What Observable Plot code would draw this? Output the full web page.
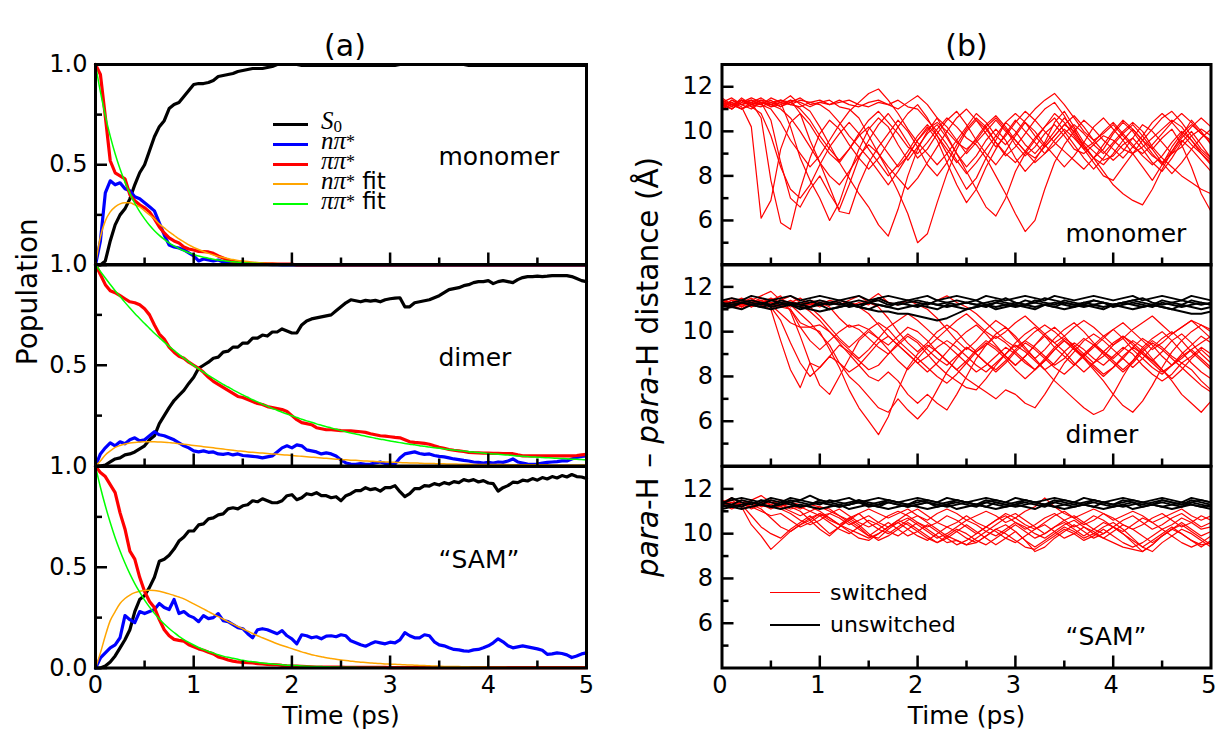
<!DOCTYPE html>
<html><head><meta charset="utf-8">
<script src="https://cdn.jsdelivr.net/npm/d3@7"></script>
<script src="https://cdn.jsdelivr.net/npm/@observablehq/plot@0.6"></script>
<style>
body{margin:0;background:#fff;}
#fig{position:relative;width:1217px;height:731px;overflow:hidden;font-family:"DejaVu Sans";background:#fff;}
.abs{position:absolute;white-space:nowrap;}
.mi{font-family:"Liberation Serif";font-style:italic;}
</style></head>
<body><div id="fig"></div>
<script>
// ---------- DATA ----------
const tL = [0,0.05,0.1,0.15,0.2,0.25,0.3,0.35,0.4,0.45,0.5,0.55,0.6,0.65,0.7,0.75,0.8,0.85,0.9,0.95,1,1.05,1.1,1.15,1.2,1.25,1.3,1.35,1.4,1.45,1.5,1.55,1.6,1.65,1.7,1.75,1.8,1.85,1.9,1.95,2,2.05,2.1,2.15,2.2,2.25,2.3,2.35,2.4,2.45,2.5,2.55,2.6,2.65,2.7,2.75,2.8,2.85,2.9,2.95,3,3.05,3.1,3.15,3.2,3.25,3.3,3.35,3.4,3.45,3.5,3.55,3.6,3.65,3.7,3.75,3.8,3.85,3.9,3.95,4,4.05,4.1,4.15,4.2,4.25,4.3,4.35,4.4,4.45,4.5,4.55,4.6,4.65,4.7,4.75,4.8,4.85,4.9,4.95,5];
const tR = [0,0.1,0.2,0.3,0.4,0.5,0.6,0.7,0.8,0.9,1,1.1,1.2,1.3,1.4,1.5,1.6,1.7,1.8,1.9,2,2.1,2.2,2.3,2.4,2.5,2.6,2.7,2.8,2.9,3,3.1,3.2,3.3,3.4,3.5,3.6,3.7,3.8,3.9,4,4.1,4.2,4.3,4.4,4.5,4.6,4.7,4.8,4.9,5];

// (a) monomer populations
const monoS0 = [0,0,0.02,0.12,0.2,0.25,0.28,0.33,0.4,0.46,
0.5,0.57,0.64,0.69,0.72,0.78,0.8,0.81,0.84,0.87,
0.9,0.905,0.905,0.91,0.92,0.94,0.945,0.95,0.955,0.965,
0.97,0.975,0.98,0.98,0.98,0.985,0.99,1,1,1,
1,1,0.996,0.996,0.996,0.996,0.996,0.996,0.996,0.996,
0.996,0.996,0.996,0.996,0.996,0.996,0.996,0.996,0.996,0.996,
0.996,0.996,1,1,1,1,1,1,1,1,
1,1,1,1,1,1,0.996,0.996,0.996,0.996,
0.996,0.996,0.996,0.996,0.996,0.996,0.996,0.996,0.996,0.996,
0.996,0.996,0.996,0.996,0.996,0.996,0.996,0.996,0.996,0.996,0.996];
const monoNpi = [0,0.12,0.36,0.42,0.4,0.41,0.38,0.37,0.34,0.33,
0.31,0.29,0.27,0.21,0.15,0.1,0.09,0.085,0.075,0.06,
0.045,0.02,0.03,0.025,0.02,0.025,0.015,0.012,0.01,0.008,
0.006,0.005,0.005,0.004,0.003,0.003,0.002,0.002,0,0,
0,0,0,0,0,0,0,0,0,0,0,0,0,0,0,0,0,0,0,0,0,0,0,0,0,0,0,0,0,0,
0,0,0,0,0,0,0,0,0,0,0,0,0,0,0,0,0,0,0,0,0,0,0,0,0,0,0,0,0,0,0];
const monoPipi = [1,0.95,0.74,0.52,0.46,0.445,0.43,0.35,0.32,0.3,
0.285,0.265,0.23,0.19,0.16,0.135,0.12,0.11,0.09,0.08,
0.075,0.068,0.067,0.065,0.058,0.045,0.035,0.025,0.018,0.012,
0.01,0.008,0.008,0.007,0.007,0.006,0.006,0.005,0.005,0.005,
0.004,0,0,0,0,0,0,0,0,0,0,0,0,0,0,0,0,0,0,0,0,0,0,0,0,0,0,0,0,0,
0,0,0,0,0,0,0,0,0,0,0,0,0,0,0,0,0,0,0,0,0,0,0,0,0,0,0,0,0,0,0];
const monoNpiFit = [0,0.14,0.22,0.265,0.29,0.305,0.31,0.31,0.3,0.29,
0.27,0.25,0.23,0.205,0.185,0.165,0.148,0.13,0.115,0.1,
0.088,0.077,0.067,0.058,0.05,0.043,0.037,0.032,0.027,0.023,
0.02,0.017,0.014,0.012,0.01,0.009,0.008,0.007,0.006,0.005,
0.004,0.003,0.003,0.002,0.002,0.002,0.001,0.001,0.001,0.001,
0,0,0,0,0,0,0,0,0,0,0,0,0,0,0,0,0,0,0,0,
0,0,0,0,0,0,0,0,0,0,0,0,0,0,0,0,0,0,0,0,0,0,0,0,0,0,0,0,0,0,0];
const monoPipiFit = [1,0.863,0.745,0.643,0.555,0.479,0.414,0.357,0.308,0.266,
0.23,0.198,0.171,0.148,0.128,0.11,0.095,0.082,0.071,0.061,
0.053,0.045,0.039,0.034,0.029,0.025,0.022,0.019,0.016,0.014,
0.012,0.01,0.009,0.008,0.007,0.006,0.005,0.004,0.004,0.003,
0.003,0.002,0.002,0.002,0.002,0.001,0.001,0.001,0.001,0.001,
0,0,0,0,0,0,0,0,0,0,0,0,0,0,0,0,0,0,0,0,
0,0,0,0,0,0,0,0,0,0,0,0,0,0,0,0,0,0,0,0,0,0,0,0,0,0,0,0,0,0,0];

// (a) dimer populations
const dimS0 = [0,0,0.005,0.02,0.035,0.04,0.055,0.06,0.07,0.085,
0.1,0.13,0.15,0.21,0.25,0.29,0.325,0.35,0.375,0.41,
0.44,0.485,0.5,0.515,0.535,0.54,0.565,0.57,0.59,0.59,
0.61,0.61,0.635,0.635,0.65,0.645,0.665,0.665,0.68,0.67,
0.66,0.66,0.7,0.72,0.73,0.735,0.74,0.745,0.75,0.77,
0.79,0.81,0.825,0.82,0.815,0.822,0.818,0.822,0.815,0.825,
0.83,0.833,0.835,0.79,0.79,0.81,0.815,0.82,0.825,0.835,
0.845,0.86,0.875,0.88,0.885,0.895,0.9,0.91,0.915,0.915,
0.92,0.905,0.915,0.92,0.915,0.91,0.925,0.935,0.94,0.94,
0.942,0.94,0.942,0.945,0.945,0.945,0.945,0.94,0.93,0.92,0.915];
const dimNpi = [0,0.06,0.09,0.115,0.1,0.12,0.11,0.13,0.14,0.125,
0.13,0.15,0.17,0.155,0.15,0.14,0.13,0.115,0.1,0.09,
0.075,0.07,0.075,0.068,0.07,0.06,0.058,0.062,0.055,0.06,
0.052,0.05,0.048,0.045,0.04,0.045,0.05,0.07,0.09,0.1,
0.09,0.105,0.1,0.08,0.075,0.07,0.06,0.065,0.06,0.05,
0.03,0.015,0.01,0.008,0.012,0.008,0.01,0.015,0.02,0.012,
0.008,0.01,0.04,0.06,0.065,0.07,0.062,0.058,0.06,0.052,
0.048,0.045,0.04,0.035,0.032,0.028,0.025,0.02,0.018,0.015,
0.018,0.015,0.02,0.018,0.025,0.035,0.02,0.015,0.01,0.008,
0.01,0.015,0.018,0.02,0.022,0.025,0.025,0.035,0.042,0.048,0.05];
const dimPipi = [1,0.95,0.9,0.87,0.86,0.845,0.83,0.815,0.81,0.8,
0.78,0.75,0.7,0.655,0.63,0.59,0.565,0.545,0.535,0.515,
0.5,0.485,0.465,0.44,0.42,0.405,0.39,0.375,0.36,0.345,
0.34,0.33,0.32,0.31,0.305,0.295,0.29,0.285,0.28,0.27,
0.25,0.23,0.215,0.21,0.205,0.19,0.185,0.18,0.18,0.178,
0.176,0.175,0.174,0.172,0.17,0.167,0.16,0.155,0.15,0.148,
0.145,0.142,0.14,0.13,0.12,0.117,0.115,0.112,0.108,0.1,
0.093,0.088,0.082,0.078,0.075,0.072,0.068,0.066,0.065,0.064,
0.064,0.063,0.063,0.062,0.062,0.061,0.055,0.05,0.05,0.05,
0.05,0.05,0.05,0.05,0.05,0.05,0.05,0.05,0.052,0.055,0.058];
const dimNpiFit = [0,0.025,0.055,0.075,0.092,0.102,0.109,0.114,0.117,0.119,
0.12,0.12,0.12,0.119,0.118,0.116,0.114,0.111,0.108,0.105,
0.102,0.099,0.096,0.093,0.09,0.087,0.084,0.081,0.078,0.075,
0.073,0.07,0.068,0.066,0.064,0.062,0.06,0.058,0.056,0.054,
0.052,0.05,0.048,0.046,0.044,0.042,0.04,0.038,0.036,0.034,
0.032,0.031,0.029,0.028,0.026,0.025,0.024,0.022,0.021,0.02,
0.019,0.018,0.017,0.016,0.015,0.015,0.014,0.013,0.013,0.012,
0.011,0.011,0.01,0.01,0.009,0.009,0.009,0.008,0.008,0.008,
0.007,0.007,0.007,0.007,0.007,0.006,0.006,0.006,0.006,0.006,
0.006,0.006,0.006,0.005,0.005,0.005,0.005,0.005,0.005,0.005,0.005];
const dimPipiFit = [1,0.966,0.933,0.901,0.87,0.841,0.812,0.784,0.757,0.732,
0.707,0.683,0.659,0.637,0.615,0.594,0.574,0.554,0.535,0.517,
0.499,0.482,0.466,0.45,0.435,0.42,0.405,0.392,0.378,0.365,
0.353,0.341,0.329,0.318,0.307,0.297,0.286,0.277,0.267,0.258,
0.249,0.241,0.232,0.224,0.217,0.209,0.202,0.195,0.189,0.182,
0.176,0.17,0.164,0.159,0.153,0.148,0.143,0.138,0.133,0.129,
0.124,0.12,0.116,0.112,0.108,0.105,0.101,0.098,0.094,0.091,
0.088,0.085,0.082,0.079,0.077,0.074,0.071,0.069,0.067,0.064,
0.062,0.06,0.058,0.056,0.054,0.052,0.05,0.049,0.047,0.045,
0.044,0.042,0.041,0.04,0.038,0.037,0.036,0.034,0.033,0.032,0.031];

// (a) "SAM" populations
const samS0 = [0,0,0.01,0.03,0.06,0.1,0.14,0.19,0.28,0.34,
0.36,0.4,0.45,0.53,0.54,0.56,0.59,0.63,0.65,0.68,
0.68,0.71,0.715,0.74,0.745,0.76,0.765,0.79,0.795,0.79,
0.805,0.81,0.83,0.825,0.84,0.83,0.82,0.82,0.83,0.855,
0.86,0.835,0.845,0.865,0.86,0.87,0.855,0.855,0.845,0.85,
0.83,0.855,0.865,0.88,0.88,0.895,0.885,0.89,0.878,0.895,
0.895,0.905,0.875,0.85,0.865,0.89,0.89,0.905,0.903,0.915,
0.908,0.92,0.913,0.925,0.92,0.935,0.928,0.935,0.923,0.93,
0.918,0.915,0.878,0.895,0.905,0.922,0.92,0.932,0.928,0.94,
0.932,0.945,0.938,0.95,0.943,0.955,0.948,0.96,0.95,0.948,0.94];
const samNpi = [0,0.05,0.075,0.1,0.115,0.15,0.26,0.24,0.225,0.28,
0.27,0.28,0.29,0.32,0.3,0.29,0.34,0.27,0.28,0.26,
0.25,0.23,0.26,0.245,0.25,0.27,0.235,0.23,0.215,0.2,
0.195,0.17,0.15,0.19,0.195,0.19,0.18,0.17,0.185,0.16,
0.145,0.12,0.165,0.16,0.15,0.155,0.145,0.158,0.16,0.155,
0.165,0.16,0.135,0.125,0.115,0.108,0.12,0.13,0.125,0.12,
0.128,0.125,0.14,0.175,0.16,0.15,0.15,0.165,0.16,0.13,
0.115,0.11,0.1,0.092,0.09,0.085,0.083,0.09,0.092,0.1,
0.11,0.125,0.145,0.13,0.11,0.1,0.105,0.11,0.105,0.1,
0.095,0.088,0.068,0.07,0.075,0.072,0.065,0.052,0.06,0.07,0.075];
const samPipi = [1,0.97,0.95,0.91,0.87,0.77,0.69,0.58,0.54,0.45,
0.38,0.33,0.3,0.24,0.19,0.16,0.142,0.137,0.133,0.115,
0.105,0.095,0.088,0.078,0.07,0.055,0.048,0.04,0.034,0.03,
0.028,0.026,0.025,0.022,0.02,0.018,0.017,0.016,0.013,0.011,
0.01,0.009,0.008,0.007,0.006,0.005,0.005,0.004,0.004,0.004,
0.004,0.003,0.003,0.003,0.003,0.003,0.003,0.003,0.003,0.003,
0.002,0.002,0.002,0.002,0.002,0.002,0.002,0.002,0.002,0.002,
0.002,0.002,0.002,0.002,0.002,0.002,0.002,0.002,0.002,0.002,
0.002,0.002,0.002,0.002,0.002,0.002,0.002,0.002,0.002,0.002,
0.002,0.002,0.002,0.002,0.002,0.002,0.002,0.002,0.002,0.002,0.002];
const samNpiFit = [0,0.075,0.16,0.235,0.28,0.32,0.345,0.362,0.374,0.381,
0.385,0.386,0.385,0.381,0.375,0.368,0.36,0.352,0.343,0.331,
0.318,0.306,0.293,0.28,0.267,0.255,0.243,0.23,0.218,0.206,
0.195,0.183,0.171,0.16,0.15,0.14,0.13,0.12,0.112,0.104,
0.096,0.088,0.08,0.073,0.066,0.061,0.056,0.051,0.047,0.043,
0.04,0.037,0.034,0.031,0.029,0.027,0.025,0.023,0.022,0.02,
0.019,0.018,0.017,0.016,0.015,0.014,0.013,0.012,0.011,0.01,
0.009,0.008,0.008,0.007,0.007,0.006,0.006,0.005,0.005,0.005,
0.004,0.004,0.004,0.004,0.003,0.003,0.003,0.003,0.003,0.003,
0.002,0.002,0.002,0.002,0.002,0.002,0.002,0.002,0.002,0.002,0.002];
const samPipiFit = [1,0.897,0.805,0.722,0.647,0.581,0.521,0.467,0.419,0.376,
0.337,0.302,0.271,0.243,0.218,0.196,0.176,0.157,0.141,0.127,
0.114,0.102,0.091,0.082,0.074,0.066,0.059,0.053,0.048,0.043,
0.038,0.034,0.031,0.028,0.025,0.022,0.02,0.018,0.016,0.014,
0.013,0.012,0.01,0.009,0.008,0.0075,0.007,0.006,0.0055,0.005,
0.0045,0.004,0.0036,0.0032,0.003,0.0027,0.0024,0.0022,0.002,0.0018,
0.001,0.001,0.001,0.001,0.001,0.001,0.001,0.001,0.001,0.001,
0.001,0.001,0.001,0.001,0.001,0.001,0.001,0.001,0.001,0.001,
0.001,0.001,0.001,0.001,0.001,0.001,0.001,0.001,0.001,0.001,
0.001,0.001,0.001,0.001,0.001,0.001,0.001,0.001,0.001,0.001,0.001];

// (b) para-H – para-H distances (Å), one list per trajectory, sampled on tR
const monomerSwitched = [
[11.2,11.3,11.1,10.2,6.1,6.9,9.2,10.4,10.8,10.3, 9.6,9.0,8.6,9.2,9.8,10.2,9.6,9.0,8.4,8.9, 9.6,10.1,10.4,10.0,9.5,9.2,9.6,10.2,10.6,10.1, 9.4,8.9,9.3,9.9,10.3,9.8,9.2,9.0,9.4,9.8, 9.6,9.2,9.0,9.3,9.7,10.1,10.5,10.2,9.6,9.0, 8.6],
[11.0,11.4,11.2,11.3,10.6,7.8,5.9,5.6,7.4,8.8, 9.9,10.5,10.1,9.4,8.8,8.3,8.8,9.5,10.2,10.8, 11.2,10.6,9.8,9.0,8.2,7.4,7.9,8.8,9.6,10.4, 10.0,9.4,9.0,9.5,10.4,10.9,10.2,9.5,9.1,8.7, 8.9,9.4,9.7,9.2,8.6,8.2,8.8,9.5,10.0,9.4, 8.8],
[11.4,11.1,11.5,11.2,11.3,10.5,8.6,7.0,6.6,7.4, 8.0,7.2,6.5,7.6,8.8,9.6,10.3,10.8,10.2,9.5, 8.8,9.2,9.9,10.5,10.9,10.3,9.6,9.0,8.5,9.1, 9.8,10.4,10.0,9.4,8.9,8.4,8.9,9.5,10.2,10.6, 10.1,9.6,9.0,8.4,7.8,8.5,9.3,9.9,10.3,9.9, 9.5],
[11.3,11.0,11.4,11.3,11.5,11.2,11.3,10.2,8.8,7.8, 7.0,6.0,6.8,8.1,9.2,10.1,10.6,10.2,9.4,8.7, 9.3,9.9,10.3,9.7,9.0,8.4,8.9,9.6,10.1,9.6, 8.8,8.2,8.7,9.4,10.0,10.6,10.1,9.3,8.8,9.2, 9.9,10.4,10.0,9.4,8.9,8.6,9.1,9.8,10.5,10.0, 9.4],
[11.1,11.3,11.0,11.2,11.4,11.3,11.1,11.4,10.8,9.6, 8.6,7.5,6.4,6.3,7.6,8.6,9.3,9.9,10.5,10.0, 9.3,8.5,8.0,8.6,9.4,10.1,10.6,10.2,9.5,8.9, 9.3,9.9,10.5,11.0,11.3,10.7,9.9,9.3,8.8,8.5, 9.0,9.6,10.1,9.6,9.0,8.5,9.0,9.6,9.2,8.7, 8.2],
[11.3,11.5,11.2,11.4,11.2,11.5,11.3,11.6,11.2,10.9, 10.2,9.4,8.6,7.9,7.2,6.6,5.8,5.3,6.5,8.0, 9.2,10.0,10.6,10.2,9.6,9.0,9.5,10.0,10.5,10.0, 9.6,9.1,8.8,9.3,9.8,10.3,10.7,10.2,9.6,9.1, 8.7,9.1,9.7,10.3,10.0,9.5,9.0,9.3,9.8,10.1, 9.8],
[11.0,11.2,11.4,11.1,11.3,11.2,11.4,11.3,11.5,11.2, 11.3,11.4,11.1,11.0,10.6,9.8,9.0,8.2,7.3,6.3, 5.0,5.4,6.8,8.1,9.2,10.0,10.5,10.1,9.5,9.0, 8.6,9.1,9.7,10.2,10.6,10.0,9.4,8.8,8.3,8.8, 9.4,9.9,10.3,9.8,9.2,8.6,8.1,8.6,9.2,9.7, 10.1],
[11.2,11.0,11.3,11.5,11.3,11.1,11.2,11.4,11.3,11.1, 11.3,11.2,11.4,11.2,11.1,11.3,11.4,11.2,11.0,11.3, 11.6,11.2,10.6,9.8,9.0,8.2,7.4,6.6,6.2,7.0, 8.2,9.0,9.6,10.2,10.8,10.4,9.8,9.2,8.6,8.0, 7.8,8.4,9.0,9.6,10.1,10.6,10.9,10.4,9.8,9.2, 8.8],
[11.4,11.2,11.0,11.3,11.2,11.4,11.1,11.3,11.0,10.5, 9.8,9.2,8.7,9.2,9.9,10.5,10.9,10.4,9.9,9.3, 9.0,9.5,10.1,10.6,10.2,9.7,9.4,8.8,8.0,7.2, 6.3,5.5,6.0,7.4,8.6,9.4,10.0,10.5,10.1,9.6, 9.2,8.8,9.3,9.8,10.4,10.8,10.4,9.9,9.4,9.0, 8.5],
[11.3,11.1,11.4,11.2,11.1,11.3,11.4,11.2,11.1,11.3, 11.4,11.2,11.3,11.4,11.2,11.1,11.3,11.2,11.4,11.1, 11.0,10.5,10.0,9.4,8.7,8.1,8.6,9.2,9.8,10.4, 10.8,10.4,9.8,9.3,9.8,10.3,10.0,9.4,8.8,8.2, 7.6,7.2,6.9,6.7,7.4,8.3,9.1,9.7,10.2,10.6, 10.2],
[11.1,11.4,11.2,11.0,11.3,11.2,11.0,10.6,10.0,9.3, 8.6,8.0,7.6,8.2,8.9,9.4,9.0,8.4,7.9,7.4, 7.9,8.6,9.3,10.0,10.6,11.0,10.5,9.9,9.3,9.8, 10.4,10.9,10.5,10.0,9.5,9.1,8.7,8.3,8.8,9.4, 10.0,10.5,10.1,9.6,9.2,9.7,10.1,9.4,8.4,7.2, 6.4],
[11.2,11.0,11.3,11.4,11.2,11.0,10.4,9.6,9.0,8.4, 8.9,9.6,10.3,10.9,11.3,11.7,11.9,11.4,10.8,10.1, 9.5,9.0,8.5,9.0,9.6,10.2,10.8,10.4,9.8,9.4, 9.9,10.5,11.0,11.4,11.7,11.2,10.6,10.0,9.6,9.9, 10.3,9.8,9.3,9.0,9.4,9.9,10.4,10.8,10.4,9.9, 9.6],
[11.5,11.2,11.4,11.1,10.8,9.8,8.4,7.4,7.0,7.6, 8.5,9.3,9.9,10.4,9.9,9.2,8.6,8.0,8.5,9.1, 9.8,10.3,9.8,9.2,8.6,9.1,9.7,10.3,10.7,10.2, 9.6,9.1,8.6,9.0,9.6,10.1,9.7,9.2,9.5,10.0, 10.4,9.9,9.4,8.9,8.5,8.9,9.5,10.0,9.6,9.1, 8.7],
[11.3,11.2,11.0,11.2,11.4,11.1,11.3,11.2,11.4,11.3, 11.2,10.9,10.4,9.8,9.3,8.8,8.2,7.6,8.2,8.9, 9.6,10.2,9.6,8.6,7.6,6.8,7.4,8.4,9.2,9.9, 10.5,10.0,9.5,9.0,9.4,9.9,10.3,9.9,9.4,9.0, 9.5,10.0,10.4,10.0,9.3,8.8,8.4,8.0,7.7,7.4, 7.2]
];
const dimerSwitched = [
[11.2,11.4,11.3,11.5,11.2,11.0,9.6,8.3,7.5,8.6, 8.4,8.9,9.4,9.1,8.7,8.3,8.5,9.0,9.5,9.9, 9.6,9.2,8.8,8.5,8.9,9.3,9.0,8.6,8.2,8.6, 9.1,9.5,9.2,8.8,8.4,8.1,8.5,9.0,9.4,9.1, 8.7,8.3,8.7,9.2,9.6,9.3,8.9,8.6,8.9,9.3, 9.0],
[11.1,11.3,11.4,11.2,11.3,11.4,11.6,10.9,9.8,8.6, 7.6,7.2,8.0,8.8,9.6,10.0,9.7,9.2,8.7,8.3, 8.8,9.3,9.7,9.4,9.0,8.6,8.2,8.5,8.9,9.3, 9.0,8.6,8.3,8.7,9.2,9.6,9.2,8.8,8.5,8.1, 8.4,8.8,9.3,9.0,8.6,8.2,8.5,8.9,9.2,8.8, 8.4],
[11.3,11.2,11.0,11.3,11.4,11.2,11.1,11.0,10.4,10.2, 10.0,9.2,8.4,7.4,6.6,6.0,5.4,6.2,7.4,8.4, 9.0,9.4,9.1,8.7,8.3,8.7,9.2,9.6,9.3,8.9, 8.5,8.9,9.4,9.8,9.5,9.1,8.6,8.2,8.6,9.1, 9.5,9.8,9.4,9.0,8.7,9.1,9.6,9.9,9.5,9.0, 8.6],
[11.4,11.2,11.3,11.1,11.3,11.5,11.3,11.2,10.8,10.4, 9.9,9.4,8.6,8.0,7.6,7.1,6.6,6.4,7.0,6.5, 6.1,6.6,7.4,8.2,8.8,9.3,9.0,8.6,8.3,8.7, 9.2,9.6,9.3,8.9,8.5,8.8,9.3,9.7,9.4,9.0, 8.6,8.2,8.6,9.1,9.5,9.2,8.8,8.4,8.0,7.6, 7.3],
[11.2,11.3,11.5,11.3,11.2,11.3,11.1,11.3,11.2,10.9, 10.5,10.0,9.5,9.0,8.5,8.0,7.8,8.2,7.8,7.2, 6.8,7.2,6.8,6.5,7.2,8.0,8.8,9.4,9.8,9.5, 9.1,8.7,8.3,8.7,9.2,9.6,9.3,8.9,8.4,8.0, 8.4,8.9,9.3,9.7,9.4,8.9,8.5,8.8,9.2,9.5, 9.8],
[11.3,11.1,11.2,11.4,11.3,11.1,11.2,11.3,11.5,11.2, 11.3,11.1,10.6,10.2,10.3,10.1,9.7,9.4,9.8,10.2, 10.0,9.6,9.1,8.7,8.3,7.9,7.6,7.3,7.0,7.4, 7.2,6.8,6.6,7.2,7.9,8.6,9.1,9.6,9.9,9.6, 9.2,8.8,8.4,8.8,9.3,9.7,10.0,9.6,9.1,8.7, 8.3],
[11.2,11.4,11.1,11.3,11.2,11.4,11.3,11.1,11.3,11.2, 11.4,11.3,11.2,11.4,11.6,11.3,11.1,10.6,10.0,9.5, 9.1,9.5,10.0,10.3,10.0,9.5,9.1,9.4,9.9,10.2, 9.8,9.3,8.8,8.3,7.8,7.4,7.0,6.6,6.3,6.5, 7.2,8.0,8.7,9.3,9.7,10.0,9.6,9.1,8.6,8.2, 7.9],
[11.3,11.2,11.4,11.2,11.1,11.3,11.2,11.4,11.2,11.3, 11.1,11.3,11.2,11.3,11.1,10.8,10.3,9.8,9.4,9.0, 8.6,8.2,8.6,9.1,9.6,10.0,10.3,9.9,9.4,8.9, 8.5,8.9,9.4,9.9,10.2,9.8,9.3,8.8,8.3,7.8, 7.2,6.7,6.4,6.9,7.6,8.4,9.1,9.6,10.0,10.3, 10.1],
[11.2,11.3,11.1,11.4,11.3,11.2,11.4,11.3,11.1,11.3, 11.2,11.4,11.3,11.1,11.3,11.2,11.5,11.3,11.2,11.4, 11.2,11.0,10.6,10.1,9.6,9.2,9.6,10.1,10.5,10.2, 9.7,9.2,8.8,9.2,9.7,10.1,10.4,10.0,9.5,9.1, 8.8,9.2,9.6,9.3,8.8,8.3,7.8,7.2,6.8,6.4, 6.9],
[11.4,11.3,11.2,11.3,11.5,11.3,11.2,11.0,10.2,9.6, 9.2,9.6,10.0,10.3,10.1,9.7,9.3,9.0,9.4,9.8, 9.5,9.0,8.5,8.1,7.8,7.5,7.4,7.9,8.5,9.0, 9.5,9.9,10.2,9.8,9.3,8.9,8.5,8.9,9.4,9.8, 10.1,9.7,9.2,8.8,8.4,8.1,8.5,9.0,9.4,9.8, 9.5],
[11.3,11.5,11.2,11.3,11.4,11.2,10.8,10.4,10.2,10.2, 10.3,10.0,9.6,9.2,8.8,9.2,9.7,10.2,10.5,10.8, 10.5,10.1,9.7,10.1,10.5,10.8,10.4,10.0,9.7,10.0, 10.4,10.7,10.3,9.9,9.5,9.8,10.2,10.5,10.2,9.8, 9.4,9.7,10.1,10.4,10.7,10.3,9.9,10.2,10.5,10.3, 10.0],
[11.1,11.3,11.4,11.2,11.4,11.1,10.5,9.5,8.6,8.0, 8.4,8.9,8.6,8.2,8.5,9.0,9.5,9.8,9.4,9.0, 8.6,8.9,9.3,9.6,9.3,8.9,8.5,8.2,8.6,9.0, 9.4,9.1,8.7,8.3,8.6,9.1,9.5,9.2,8.8,8.5, 8.9,9.3,9.0,8.5,8.1,7.8,8.1,8.6,8.3,7.8, 7.4],
[11.2,11.3,11.1,11.4,11.6,11.8,11.4,11.3,11.2,11.4, 11.3,11.2,11.4,11.3,11.2,11.4,11.7,11.3,11.2,11.4, 11.3,11.2,11.4,11.6,11.3,11.1,10.8,10.4,10.0,9.6, 9.3,9.6,10.0,10.3,10.0,9.6,9.2,8.9,9.3,9.7, 10.1,10.4,10.0,9.6,9.2,9.5,9.9,10.2,10.5,10.1, 9.7],
[11.3,11.2,11.3,11.1,11.3,11.2,11.4,11.6,11.3,11.1, 10.7,10.2,9.7,9.3,9.7,10.1,10.4,10.1,9.6,9.2, 8.8,8.4,8.0,7.7,8.1,8.6,9.1,9.5,9.2,8.8, 8.3,7.9,8.3,8.8,9.3,9.7,9.4,9.0,8.6,8.9, 9.4,9.8,9.5,9.1,8.7,8.3,7.9,8.3,8.8,9.2, 8.8]
];
const dimerUnswitched = [
[11.2,11.3,11.4,11.3,11.2,11.4,11.3,11.2,11.3,11.4, 11.2,11.3,11.4,11.3,11.1,11.3,11.4,11.2,11.3,11.4, 11.3,11.2,11.4,11.3,11.2,11.3,11.4,11.2,11.3,11.5, 11.3,11.2,11.4,11.3,11.2,11.4,11.3,11.2,11.4,11.3, 11.2,11.3,11.4,11.3,11.2,11.4,11.3,11.2,11.4,11.3, 11.2],
[11.0,11.1,11.0,11.2,11.1,11.0,11.1,11.2,11.0,11.1, 11.2,11.0,11.1,11.2,11.1,11.0,11.2,11.1,11.0,11.1, 11.2,11.1,11.0,11.2,11.1,11.0,11.1,11.2,11.0,11.1, 11.2,11.1,11.0,11.2,11.1,11.0,11.1,11.2,11.1,11.0, 11.2,11.1,11.0,11.1,11.2,11.1,11.0,11.2,11.1,11.0, 11.1],
[11.4,11.5,11.4,11.6,11.5,11.4,11.5,11.6,11.4,11.5, 11.6,11.5,11.4,11.5,11.6,11.4,11.5,11.6,11.5,11.4, 11.5,11.6,11.4,11.5,11.6,11.5,11.4,11.6,11.5,11.4, 11.5,11.6,11.5,11.4,11.6,11.5,11.4,11.5,11.6,11.5, 11.4,11.5,11.6,11.4,11.5,11.6,11.5,11.4,11.6,11.5, 11.4],
[11.1,11.2,11.3,11.2,11.1,11.2,11.3,11.2,11.1,11.0, 10.9,11.0,11.1,11.2,11.1,11.0,10.9,10.9,10.8,10.8, 10.7,10.6,10.5,10.6,10.8,11.0,11.1,11.2,11.1,11.2, 11.3,11.2,11.1,11.2,11.3,11.2,11.1,11.3,11.2,11.1, 11.2,11.3,11.2,11.1,11.2,11.1,11.0,10.9,10.8,10.8, 10.9],
[11.3,11.2,11.3,11.4,11.3,11.2,11.4,11.3,11.2,11.3, 11.4,11.3,11.2,11.3,11.4,11.3,11.5,11.3,11.2,11.3, 11.4,11.3,11.2,11.3,11.4,11.3,11.2,11.3,11.4,11.3, 11.2,11.4,11.3,11.5,11.4,11.3,11.2,11.3,11.4,11.3, 11.2,11.3,11.4,11.5,11.3,11.2,11.3,11.4,11.3,11.2, 11.3],
[11.2,11.1,11.3,11.2,11.3,11.1,11.2,11.3,11.2,11.1, 11.3,11.2,11.3,11.1,11.2,11.3,11.2,11.1,11.3,11.2, 11.1,11.3,11.2,11.1,11.2,11.3,11.2,11.1,11.3,11.2, 11.1,11.2,11.3,11.2,11.1,11.3,11.2,11.1,11.2,11.3, 11.1,11.2,11.3,11.2,11.1,11.3,11.2,11.1,11.2,11.3, 11.2]
];
const samSwitched = [
[11.3,11.5,11.2,10.4,9.9,9.3,9.7,10.1,10.4,10.6, 10.9,10.7,10.4,10.2,10.0,9.8,10.0,10.3,10.5,10.2, 9.9,9.7,10.0,10.3,10.1,9.8,9.6,9.9,10.2,10.4, 10.1,9.7,9.4,9.7,10.0,10.3,10.1,9.8,10.0,10.3, 10.5,10.2,9.8,9.4,9.7,10.0,10.3,10.0,9.7,9.5, 9.6],
[11.4,11.2,11.3,10.8,10.3,10.0,9.8,10.2,10.5,10.8, 10.4,10.0,10.3,10.6,10.3,9.9,9.8,10.2,10.5,10.7, 10.4,10.1,9.8,10.0,10.3,10.6,10.4,10.1,9.9,10.2, 10.5,10.3,10.0,9.8,10.1,10.4,10.6,10.3,10.0,9.8, 10.1,10.4,10.2,9.9,9.6,9.9,10.2,10.5,10.2,9.9, 10.1],
[11.2,11.3,11.5,11.3,11.1,10.7,10.3,10.1,10.4,10.7, 10.9,10.6,10.4,10.7,10.9,10.5,10.2,10.0,10.3,10.6, 10.8,10.5,10.2,9.9,9.7,9.5,9.8,10.1,10.4,10.7, 10.9,10.6,10.3,10.0,10.3,10.6,10.8,10.5,10.2,10.0, 10.3,10.6,10.8,10.5,10.2,10.4,10.7,10.9,10.6,10.3, 10.5],
[11.3,11.4,11.2,11.4,11.3,11.1,11.3,11.2,11.0,10.6, 10.2,9.9,10.3,10.7,10.4,10.0,9.7,9.9,10.2,10.5, 10.2,9.9,9.6,9.8,10.1,10.4,10.1,9.8,9.5,9.8, 10.1,9.7,9.2,9.4,9.8,10.1,10.4,10.1,9.8,10.0, 10.3,10.0,9.6,9.2,9.5,9.9,10.2,10.0,9.7,9.4, 9.7],
[11.2,11.3,11.4,11.2,11.5,11.3,11.2,11.4,11.3,11.2, 11.0,10.7,10.4,10.1,9.8,9.7,10.0,10.3,10.6,10.4, 10.1,9.8,9.6,9.9,10.2,10.0,9.7,9.5,9.8,10.1, 10.4,10.1,9.8,10.0,10.3,10.5,10.2,9.9,10.2,10.5, 10.3,10.0,9.7,9.4,9.2,9.6,9.9,10.2,10.0,9.7, 9.4],
[11.4,11.6,11.3,11.5,11.7,11.4,11.2,11.0,10.8,11.0, 11.2,11.0,10.8,10.6,10.9,11.1,10.9,10.7,10.9,11.1, 10.8,10.6,10.9,11.1,10.9,10.6,10.8,11.0,10.8,10.5, 10.7,11.0,11.2,11.6,11.2,10.9,10.7,10.9,11.1,10.9, 10.6,10.8,11.0,10.8,10.5,10.7,10.9,11.1,10.8,10.6, 10.8],
[11.3,11.2,11.4,11.1,11.3,11.5,11.3,11.1,11.2,11.0, 10.8,10.9,11.1,10.8,10.5,10.3,10.5,10.8,11.0,10.8, 10.5,10.3,10.5,10.8,10.6,10.3,10.0,10.3,10.6,10.8, 10.5,10.2,10.4,10.7,10.9,10.6,10.3,10.5,10.8,10.6, 10.3,10.1,10.4,10.7,10.5,10.2,10.4,10.7,10.5,10.2, 10.3],
[11.2,11.4,11.3,11.2,11.4,11.3,11.5,11.3,11.1,11.3, 11.2,11.1,10.8,10.5,10.2,9.9,10.2,10.5,10.2,9.9, 10.1,10.4,10.1,9.8,9.5,9.7,10.0,10.3,10.1,9.8, 9.6,9.9,10.2,10.4,10.1,9.8,10.0,10.3,10.1,9.8, 9.6,9.4,9.3,9.2,9.5,9.9,10.2,10.4,10.1,9.8, 9.5],
[11.5,11.3,11.2,11.4,11.2,11.3,11.1,10.9,10.6,10.4, 10.6,10.9,10.7,10.4,10.6,10.8,10.5,10.3,10.6,10.9, 11.1,10.8,10.5,10.3,10.5,10.8,10.5,10.3,10.6,10.9, 10.7,10.4,10.2,10.5,10.8,11.0,10.7,10.4,10.6,10.9, 10.7,10.4,10.2,10.4,10.7,10.9,10.6,10.3,10.5,10.8, 10.6],
[11.3,11.1,11.3,11.2,11.0,10.8,10.9,10.6,10.3,10.5, 10.8,10.5,10.2,10.0,10.3,10.6,10.4,10.1,9.9,10.2, 10.5,10.2,9.9,9.6,9.7,9.5,9.6,9.9,10.2,10.0, 9.7,9.4,9.3,9.6,9.9,10.2,10.0,9.7,9.9,10.2, 9.9,9.6,9.4,9.6,9.9,10.2,9.9,9.6,9.4,9.6, 9.9]
];
const samUnswitched = [
[11.4,11.5,11.6,11.5,11.4,11.6,11.5,11.4,11.5,11.7, 11.5,11.4,11.5,11.6,11.4,11.5,11.6,11.5,11.4,11.5, 11.6,11.5,11.4,11.6,11.5,11.4,11.5,11.6,11.5,11.4, 11.6,11.5,11.4,11.5,11.6,11.5,11.4,11.6,11.5,11.4, 11.5,11.6,11.5,11.4,11.5,11.6,11.5,11.4,11.6,11.5, 11.4],
[11.2,11.3,11.2,11.4,11.3,11.2,11.3,11.4,11.2,11.3, 11.4,11.3,11.2,11.3,11.4,11.2,11.3,11.4,11.3,11.2, 11.3,11.4,11.2,11.3,11.4,11.3,11.2,11.4,11.3,11.2, 11.3,11.4,11.3,11.2,11.4,11.3,11.2,11.3,11.4,11.3, 11.2,11.3,11.4,11.2,11.3,11.4,11.3,11.2,11.4,11.3, 11.2],
[11.3,11.6,11.4,11.3,11.5,11.4,11.3,11.5,11.4,11.3, 11.5,11.4,11.3,11.4,11.5,11.3,11.4,11.5,11.4,11.3, 11.5,11.4,11.3,11.4,11.5,11.4,11.3,11.5,11.4,11.3, 11.4,11.5,11.4,11.3,11.5,11.4,11.3,11.4,11.5,11.4, 11.3,11.5,11.4,11.3,11.4,11.5,11.4,11.3,11.5,11.4, 11.3],
[11.1,11.2,11.1,11.2,11.3,11.2,11.1,11.2,11.3,11.2, 11.1,11.2,11.3,11.1,11.2,11.3,11.2,11.1,11.2,11.3, 11.2,11.1,11.2,11.3,11.1,11.2,11.3,11.2,11.1,11.2, 11.3,11.2,11.1,11.3,11.2,11.1,11.2,11.3,11.2,11.1, 11.2,11.3,11.1,11.2,11.3,11.2,11.1,11.2,11.3,11.2, 11.1],
[11.4,11.3,11.5,11.4,11.3,11.5,11.4,11.6,11.5,11.4, 11.3,11.5,11.4,11.3,11.5,11.4,11.3,11.5,11.4,11.3, 11.4,11.5,11.4,11.3,11.5,11.4,11.3,11.4,11.5,11.4, 11.3,11.5,11.4,11.3,11.4,11.5,11.4,11.3,11.5,11.4, 11.3,11.4,11.5,11.4,11.3,11.5,11.4,11.3,11.4,11.5, 11.4],
[11.3,11.2,11.3,11.4,11.3,11.2,11.4,11.3,11.2,11.3, 11.4,11.3,11.2,11.3,11.4,11.3,11.2,11.4,11.3,11.2, 11.3,11.4,11.3,11.2,11.3,11.4,11.3,11.2,11.4,11.3, 11.2,11.3,11.4,11.3,11.2,11.3,11.4,11.3,11.2,11.4, 11.3,11.2,11.3,11.4,11.3,11.2,11.3,11.4,11.3,11.2, 11.3]
];

// axis ticks & labels
const xTickLabels = [0, 1, 2, 3, 4, 5];
const xMajorTicks = [1, 2, 3, 4];
const xMinorTicks = [0.5, 1.5, 2.5, 3.5, 4.5];
const popMajorTicks = [0, 0.5, 1];
const popMinorTicks = [0.25, 0.75];
const distMajorTicks = [6, 8, 10, 12];
const distMinorTicks = [5, 7, 9, 11];
const panelNames = ["monomer", "dimer", "\u201CSAM\u201D"];
const popLegend = [
  {math: "S", sub: "0", fit: false, color: "#000000"},
  {math: "n\u03C0", sup: "*", fit: false, color: "#0000ff"},
  {math: "\u03C0\u03C0", sup: "*", fit: false, color: "#ff0000"},
  {math: "n\u03C0", sup: "*", fit: true, color: "#ffa500"},
  {math: "\u03C0\u03C0", sup: "*", fit: true, color: "#00ff00"}
];
const distLegend = [{label: "switched", color: "#ff0000"}, {label: "unswitched", color: "#000000"}];

// ---------- LAYOUT ----------
const fig = document.getElementById("fig");
const FONT = "DejaVu Sans";
const LEFT = {x0: 95, x1: 586, svgLeft: 0, width: 620};
const RIGHT = {x0: 721.5, x1: 1210.5, svgLeft: 620, width: 597};
const ROWS = [{top: 63.5, bottom: 264}, {top: 264, bottom: 465.5}, {top: 465.5, bottom: 667}];
const PAD = 30;

const rowsOf = (t, v) => t.map((x, i) => ({t: x, v: v[i]}));
const trajRows = (t, list) => list.flatMap((v, k) => v.map((y, i) => ({t: t[i], v: y, k})));

function panel(col, row, yDomain, opts, dataMarks) {
  const r = ROWS[row];
  const fh = r.bottom - r.top, fw = col.x1 - col.x0;
  const tk = {stroke: "black", strokeWidth: 2.5};
  const marks = [
    ...dataMarks,
    Plot.tickY(opts.yMajor, {insetRight: fw - 12, ...tk}),
    Plot.tickY(opts.yMinor, {insetRight: fw - 7, ...tk}),
    Plot.tickX(xMajorTicks, {insetTop: fh - 12, ...tk}),
    Plot.tickX(xMinorTicks, {insetTop: fh - 7, ...tk}),
    Plot.axisY(opts.yLabels, {tickSize: 0, tickPadding: opts.pad, tickFormat: opts.fmt, fontSize: 24, label: null}),
    Plot.frame({stroke: "black", strokeWidth: 3}),
    Plot.text([panelNames[row]], {text: d => d, frameAnchor: "top-left", dx: opts.nameDx, dy: opts.nameDy, textAnchor: "start", lineAnchor: "middle", fontSize: 25})
  ];
  if (row === 2) {
    marks.push(Plot.axisX(xTickLabels, {tickSize: 0, tickPadding: 8, fontSize: 24, label: null, dx: opts.xLabelDx}));
    marks.push(Plot.text(["Time (ps)"], {text: d => d, frameAnchor: "bottom", dy: 48, lineAnchor: "middle", fontSize: 25}));
  }
  if (row === 0) {
    marks.push(Plot.text([opts.title], {text: d => d, frameAnchor: "top", dy: -18, dx: opts.titleDx, lineAnchor: "middle", fontSize: 30}));
  }
  if (opts.extra) marks.push(...opts.extra);
  const svg = Plot.plot({
    width: col.width, height: fh + 2 * PAD,
    marginLeft: col.x0 - col.svgLeft, marginRight: col.svgLeft + col.width - col.x1,
    marginTop: PAD, marginBottom: PAD,
    x: {domain: [0, 5], axis: null},
    y: {domain: yDomain, axis: null},
    style: `overflow:visible;background:transparent;font-family:${FONT};max-width:none;`,
    marks
  });
  svg.style.position = "absolute";
  svg.style.left = col.svgLeft + "px";
  svg.style.top = (r.top - PAD) + "px";
  fig.appendChild(svg);
}

// ---- (a) populations ----
const popSets = [
  [monoS0, monoNpi, monoPipi, monoNpiFit, monoPipiFit],
  [dimS0, dimNpi, dimPipi, dimNpiFit, dimPipiFit],
  [samS0, samNpi, samPipi, samNpiFit, samPipiFit]
];
const fmt1 = d3.format(".1f");
popSets.forEach((s, row) => {
  const lines = [
    Plot.line(rowsOf(tL, s[0]), {x: "t", y: "v", stroke: "#000000", strokeWidth: 3.2}),
    Plot.line(rowsOf(tL, s[1]), {x: "t", y: "v", stroke: "#0000ff", strokeWidth: 3.2}),
    Plot.line(rowsOf(tL, s[2]), {x: "t", y: "v", stroke: "#ff0000", strokeWidth: 3.2}),
    Plot.line(rowsOf(tL, s[3]), {x: "t", y: "v", stroke: "#ffa500", strokeWidth: 1.5, curve: "monotone-x"}),
    Plot.line(rowsOf(tL, s[4]), {x: "t", y: "v", stroke: "#00ff00", strokeWidth: 1.5, curve: "monotone-x"})
  ];
  const extra = row === 1 ? [Plot.text(["Population"], {text: d => d, frameAnchor: "left", dx: -67, rotate: -90, fontSize: 28})] : null;
  panel(LEFT, row, [0, 1], {
    yMajor: popMajorTicks, yMinor: popMinorTicks,
    yLabels: row === 2 ? [0, 0.5, 1] : [0.5, 1], fmt: fmt1, pad: 8,
    nameDx: 343, nameDy: row === 0 ? 92.5 : 93,
    title: "(a)", titleDx: 4, xLabelDx: 0, extra
  }, lines);
});

// ---- (b) distances ----
const distSets = [[monomerSwitched, []], [dimerSwitched, dimerUnswitched], [samSwitched, samUnswitched]];
distSets.forEach(([sw, un], row) => {
  const lines = [
    Plot.line(trajRows(tR, sw), {x: "t", y: "v", z: "k", stroke: "#ff0000", strokeWidth: 1.2}),
    Plot.line(trajRows(tR, un), {x: "t", y: "v", z: "k", stroke: "#000000", strokeWidth: 1.9})
  ];
  panel(RIGHT, row, [4, 13], {
    yMajor: distMajorTicks, yMinor: distMinorTicks,
    yLabels: distMajorTicks, fmt: d => String(d), pad: 9,
    nameDx: 343.5, nameDy: row === 0 ? 169.5 : 170,
    title: "(b)", titleDx: 0, xLabelDx: -2
  }, lines);
});

// ---- legends & right axis title (HTML text) ----
popLegend.forEach((d, i) => {
  const y = 124 + i * 20;
  const ln = document.createElement("div");
  ln.className = "abs";
  const th = d.fit ? 1.5 : 3;
  Object.assign(ln.style, {left: "273px", top: (y - th / 2) + "px", width: "35px", height: th + "px", background: d.color});
  fig.appendChild(ln);
  const tx = document.createElement("div");
  tx.className = "abs";
  Object.assign(tx.style, {left: "321px", top: (y - 17) + "px", height: "28px", lineHeight: "28px", fontSize: "25px"});
  let html = `<span class="mi">${d.math}</span>`;
  if (d.sub) html += `<span style="font-family:'Liberation Serif';font-size:17px;position:relative;top:3px;">${d.sub}</span>`;
  if (d.sup) html += `<span style="font-family:'Liberation Serif';font-size:18px;position:relative;top:-1px;">${d.sup}</span>`;
  if (d.fit) html += `<span style="font-family:'DejaVu Sans';font-size:23px;"> fit</span>`;
  tx.innerHTML = html;
  fig.appendChild(tx);
});
distLegend.forEach((d, i) => {
  const y = 592.5 + i * 32.5;
  const ln = document.createElement("div");
  ln.className = "abs";
  Object.assign(ln.style, {left: "770px", top: (y - 0.75) + "px", width: "50px", height: "1.5px", background: d.color});
  fig.appendChild(ln);
  const tx = document.createElement("div");
  tx.className = "abs";
  Object.assign(tx.style, {left: "830px", top: (y - 14) + "px", lineHeight: "28px", fontSize: "22px", fontFamily: FONT});
  tx.textContent = d.label;
  fig.appendChild(tx);
});
const yl = document.createElement("div");
yl.className = "abs";
Object.assign(yl.style, {left: "648px", top: "367px", fontSize: "29.5px", fontFamily: FONT, transform: "translate(-50%,-50%) rotate(-90deg)"});
yl.innerHTML = `<i>para</i>-H \u2013 <i>para</i>-H distance (\u00C5)`;
fig.appendChild(yl);
</script>
</body></html>
